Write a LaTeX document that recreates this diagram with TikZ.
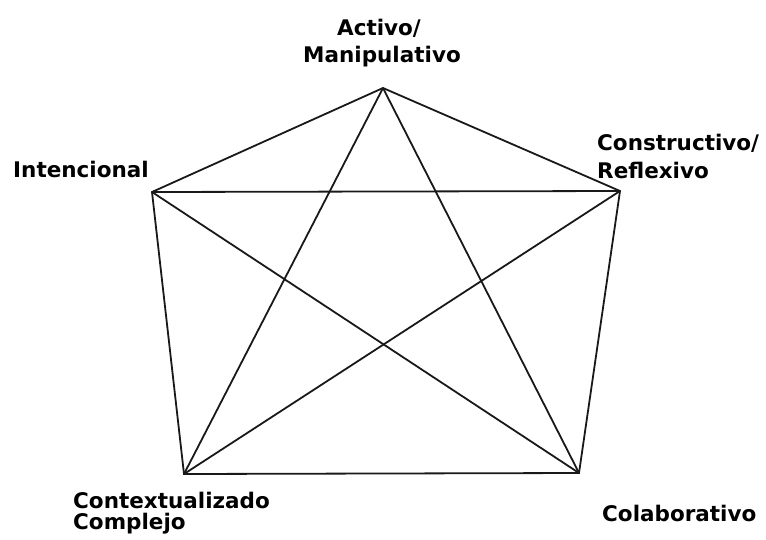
\documentclass[tikz,border=0pt]{standalone}
\usepackage{fontspec}
\setmainfont{DejaVu Sans}
\begin{document}
\begin{tikzpicture}[x=1pt,y=-1pt,
  edge/.style={draw=black!90,line width=1.8pt},
  lbl/.style={inner sep=0pt,font=\bfseries\fontsize{21.5}{24}\selectfont,text=black}]
\useasboundingbox (0,0) rectangle (766,539);
\coordinate (T) at (383,88);
\coordinate (R) at (620,191);
\coordinate (L) at (152,192);
\coordinate (BL) at (184,474);
\coordinate (BR) at (579,473);
\draw[edge] (T) -- (R) -- (BR) -- (BL) -- (L) -- cycle;
\draw[edge] (T) -- (BL);
\draw[edge] (T) -- (BR);
\draw[edge] (L) -- (R);
\draw[edge] (L) -- (BR);
\draw[edge] (R) -- (BL);
\node[lbl,anchor=base] (t1) at (379,35) {Activo/};
\node[lbl,anchor=base] (t2) at (382,62) {Manipulativo};
\node[lbl,anchor=base west] (r1) at (597,150) {Constructivo/};
\node[lbl,anchor=base west] (r2) at (597,178) {Reflexivo};
\node[lbl,anchor=base west] (l1) at (13,177) {Intencional};
\node[lbl,anchor=base west] (b1) at (73,508) {Contextualizado};
\node[lbl,anchor=base west] (b2) at (73,529) {Complejo};
\node[lbl,anchor=base west] (c1) at (602,521) {Colaborativo};
\end{tikzpicture}
\end{document}
